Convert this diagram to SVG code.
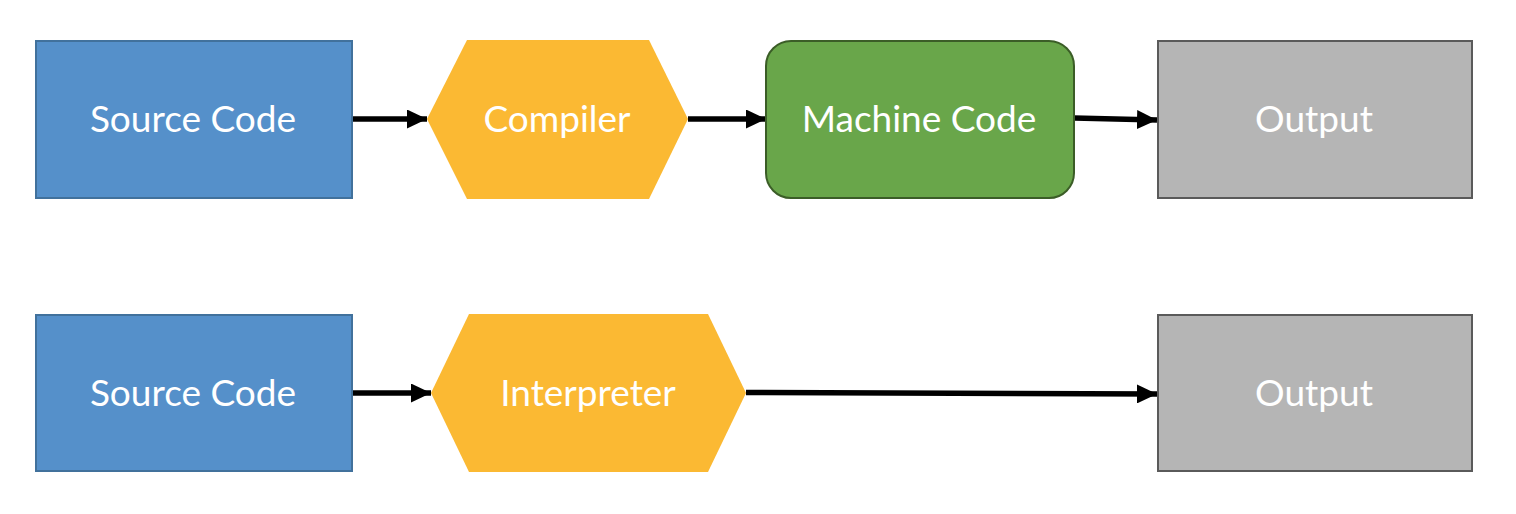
<svg xmlns="http://www.w3.org/2000/svg" width="1516" height="514" viewBox="0 0 1516 514">
<defs>
<style>
.src{fill:#5590ca;stroke:#41719c;stroke-width:2}
.hex{fill:#fbb933}
.mc{fill:#69a64a;stroke:#3b5d27;stroke-width:2}
.out{fill:#b5b5b5;stroke:#5a5a5a;stroke-width:2}
.lbl{font-family:Lato,"Open Sans",sans-serif;font-size:37px;fill:#ffffff;text-anchor:middle}
.conn{stroke:#000;stroke-width:5.5;fill:none}
</style>
<marker id="arr" markerWidth="20" markerHeight="19" refX="20" refY="9.5" orient="auto" markerUnits="userSpaceOnUse">
<path d="M0,0 L20,9.5 L0,19 Z" fill="#000"/>
</marker>
</defs>
<g id="connectors">
<line class="conn" x1="352" y1="119" x2="427" y2="119" marker-end="url(#arr)"/>
<line class="conn" x1="688" y1="119" x2="766" y2="119" marker-end="url(#arr)"/>
<line class="conn" x1="1074" y1="118" x2="1157" y2="120" marker-end="url(#arr)"/>
<line class="conn" x1="352" y1="393" x2="431" y2="393" marker-end="url(#arr)"/>
<line class="conn" x1="746" y1="392.5" x2="1157" y2="394" marker-end="url(#arr)"/>
</g>
<g id="src1">
<rect class="src" x="36" y="41" width="316" height="157"/>
<text class="lbl" x="193" y="132">Source Code</text>
</g>
<g id="compiler">
<polygon class="hex" points="467,40 649,40 688,119 649,199 467,199 427,119"/>
<text class="lbl" x="557" y="132">Compiler</text>
</g>
<g id="machine">
<rect class="mc" x="766" y="41" width="308" height="157" rx="25" ry="25"/>
<text class="lbl" x="919" y="132">Machine Code</text>
</g>
<g id="out1">
<rect class="out" x="1158" y="41" width="314" height="157"/>
<text class="lbl" x="1314" y="132">Output</text>
</g>
<g id="src2">
<rect class="src" x="36" y="315" width="316" height="156"/>
<text class="lbl" x="193" y="406">Source Code</text>
</g>
<g id="interpreter">
<polygon class="hex" points="469,314 708,314 746,393 708,472 469,472 431,393"/>
<text class="lbl" x="588" y="406">Interpreter</text>
</g>
<g id="out2">
<rect class="out" x="1158" y="315" width="314" height="156"/>
<text class="lbl" x="1314" y="406">Output</text>
</g>
</svg>
